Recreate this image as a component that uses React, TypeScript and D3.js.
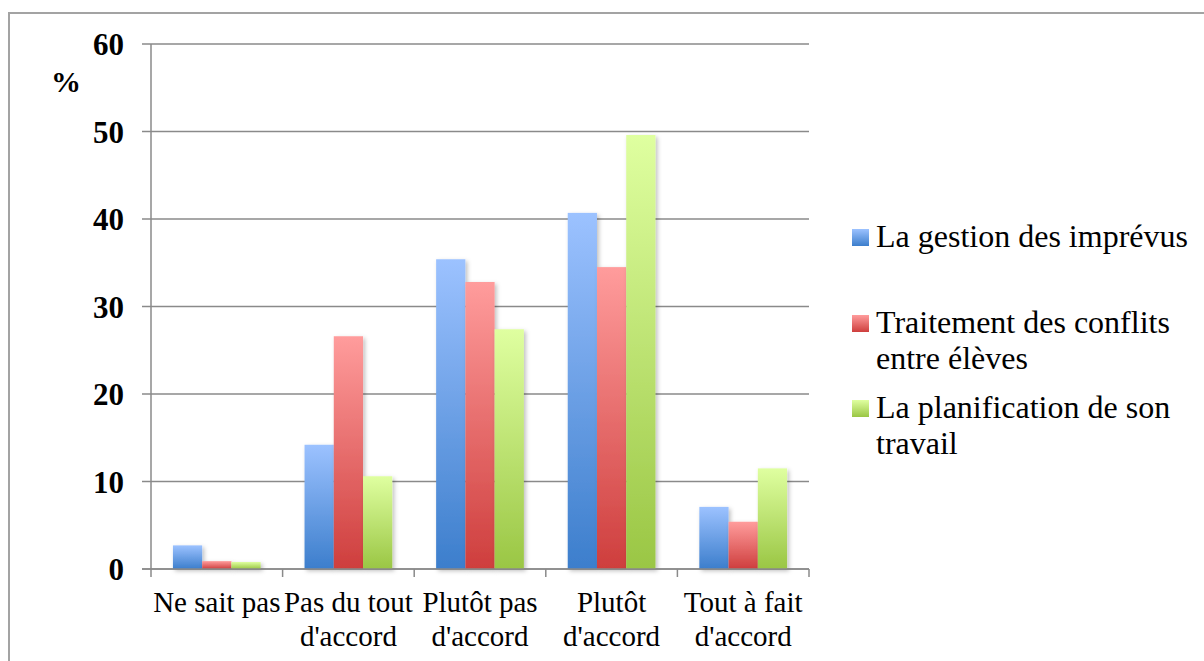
import React from "react";
import * as d3 from "d3";

const categories: string[][] = [
  ["Ne sait pas"],
  ["Pas du tout", "d'accord"],
  ["Plutôt pas", "d'accord"],
  ["Plutôt", "d'accord"],
  ["Tout à fait", "d'accord"],
];
const seriesNames: string[][] = [
  ["La gestion des imprévus"],
  ["Traitement des conflits", "entre élèves"],
  ["La planification de son", "travail"],
];
const gestion = [2.7, 14.2, 35.4, 40.7, 7.1];
const traitement = [0.9, 26.6, 32.8, 34.5, 5.4];
const planification = [0.8, 10.6, 27.4, 49.6, 11.5];
const yTicks = [0, 10, 20, 30, 40, 50, 60];

const seriesValues = [gestion, traitement, planification];
const gradients = [
  { id: "gBlue", top: "#9CC2FF", bottom: "#3C7ECC" },
  { id: "gRed", top: "#FF9C9C", bottom: "#CE3E3D" },
  { id: "gGreen", top: "#DFFFA0", bottom: "#9AC644" },
];

const W = 1204;
const H = 661;
const left = 151;
const right = 809;
const top = 44;
const bottom = 569;
const serif = "Liberation Serif, Times New Roman, Times, serif";

export default function App() {
  const x = d3
    .scaleBand<number>()
    .domain(d3.range(categories.length))
    .range([left, right])
    .paddingInner(0)
    .paddingOuter(0);
  const inner = d3
    .scaleBand<number>()
    .domain([0, 1, 2])
    .range([0, x.bandwidth()])
    .paddingOuter(0.75)
    .paddingInner(0);
  const y = d3.scaleLinear().domain([0, 60]).range([bottom, top]);
  const gridColor = "#8a8a8a";

  return (
    <div style={{ position: "absolute", left: 0, top: 0 }}>
      <svg width={W} height={H} style={{ display: "block", background: "#fff" }}>
        <defs>
          {gradients.map((g) => (
            <linearGradient key={g.id} id={g.id} x1="0" y1="0" x2="0" y2="1">
              <stop offset="0" stopColor={g.top} />
              <stop offset="1" stopColor={g.bottom} />
            </linearGradient>
          ))}
          <filter id="shadow" x="-20%" y="-20%" width="150%" height="150%">
            <feDropShadow dx="2" dy="2" stdDeviation="2" floodColor="#000" floodOpacity="0.25" />
          </filter>
        </defs>
        <rect x={9} y={13} width={W + 20} height={H + 20} fill="none" stroke="#a3a3a3" strokeWidth={2} />

        {yTicks.map((t) => (
          <line key={"g" + t} x1={left - 9} x2={right} y1={y(t)} y2={y(t)} stroke={gridColor} strokeWidth={1.5} />
        ))}
        <line x1={left} x2={left} y1={top} y2={bottom} stroke={gridColor} strokeWidth={1.5} />
        {yTicks.map((t) => (
          <text
            key={"yl" + t}
            x={124}
            y={y(t) + 11}
            textAnchor="end"
            fontFamily={serif}
            fontWeight="bold"
            fontSize={31}
            fill="#000"
          >
            {t}
          </text>
        ))}
        <text x={51} y={92} fontFamily={serif} fontWeight="bold" fontSize={30} fill="#000">
          %
        </text>

        {seriesValues.map((vals, s) => (
          <g key={"s" + s} filter="url(#shadow)">
            {vals.map((v, i) => (
              <rect
                key={i}
                x={(x(i) as number) + (inner(s) as number)}
                y={y(v)}
                width={inner.bandwidth()}
                height={y(0) - y(v)}
                fill={`url(#${gradients[s].id})`}
              />
            ))}
          </g>
        ))}

        <line x1={left - 9} x2={right} y1={bottom} y2={bottom} stroke={gridColor} strokeWidth={1.5} />
        {d3.range(categories.length + 1).map((k) => {
          const xx = left + k * x.bandwidth();
          return <line key={"xt" + k} x1={xx} x2={xx} y1={bottom} y2={bottom + 8} stroke={gridColor} strokeWidth={1.5} />;
        })}
        {categories.map((lines, i) => (
          <text
            key={"xl" + i}
            x={(x(i) as number) + x.bandwidth() / 2}
            y={612}
            textAnchor="middle"
            fontFamily={serif}
            fontSize={29}
            fill="#000"
          >
            {lines.map((l, j) => (
              <tspan key={j} x={(x(i) as number) + x.bandwidth() / 2} dy={j === 0 ? 0 : 34}>
                {l}
              </tspan>
            ))}
          </text>
        ))}

        {seriesNames.map((lines, s) => {
          const baseY = [247, 333, 418][s];
          return (
            <g key={"lg" + s}>
              <rect x={852} y={baseY - 18} width={17} height={17} fill={`url(#${gradients[s].id})`} />
              <text x={876} y={baseY} fontFamily={serif} fontSize={32} fill="#000">
                {lines.map((l, j) => (
                  <tspan key={j} x={876} dy={j === 0 ? 0 : 36}>
                    {l}
                  </tspan>
                ))}
              </text>
            </g>
          );
        })}
      </svg>
    </div>
  );
}
